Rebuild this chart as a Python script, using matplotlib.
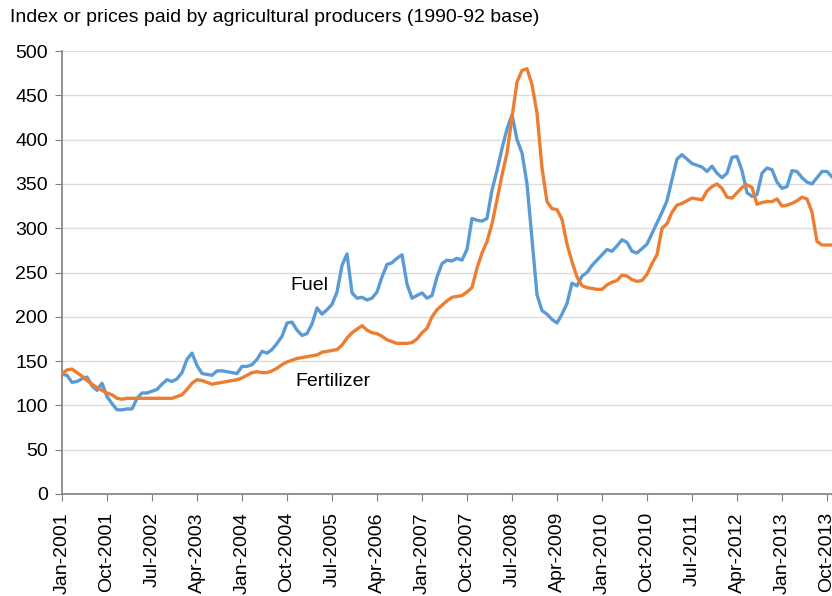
import matplotlib
matplotlib.use('agg')
import matplotlib.pyplot as plt
import numpy as np
import pandas as pd

plt.rcParams['font.family'] = ['Liberation Sans', 'DejaVu Sans']

# monthly index, Jan-2001 .. Nov-2013 (1990-92 = 100)
months = pd.date_range('2001-01-01', periods=155, freq='MS')

fuel = [
    135, 134, 126, 127, 130, 132, 122, 117, 125, 110, 102, 95,     # 2001
    95, 96, 96, 108, 114, 114, 116, 118, 124, 129, 127, 130,       # 2002
    137, 152, 159, 145, 136, 135, 134, 139, 139, 138, 137, 136,    # 2003
    144, 144, 146, 152, 161, 159, 163, 170, 178, 193, 194, 185,    # 2004
    179, 181, 192, 210, 203, 208, 214, 228, 258, 271, 227, 221,    # 2005
    222, 219, 221, 228, 245, 259, 261, 266, 270, 237, 221, 224,    # 2006
    227, 221, 224, 245, 260, 264, 263, 266, 264, 276, 311, 309,    # 2007
    308, 311, 343, 365, 390, 412, 428, 400, 385, 350, 287, 225,    # 2008
    207, 203, 197, 193, 203, 215, 238, 235, 246, 250, 258, 264,    # 2009
    270, 276, 274, 280, 287, 284, 274, 272, 277, 282, 294, 306,    # 2010
    318, 331, 355, 378, 383, 378, 373, 371, 369, 364, 370, 362,    # 2011
    357, 362, 380, 381, 365, 340, 336, 338, 362, 368, 366, 352,    # 2012
    345, 347, 365, 364, 357, 352, 350, 357, 364, 364, 358,         # 2013
]

fertilizer = [
    136, 140, 141, 137, 133, 128, 124, 120, 117, 114, 112, 108,    # 2001
    107, 108, 108, 108, 108, 108, 108, 108, 108, 108, 108, 110,    # 2002
    112, 118, 125, 129, 128, 126, 124, 125, 126, 127, 128, 129,    # 2003
    131, 134, 137, 138, 137, 137, 139, 142, 146, 149, 151, 153,    # 2004
    154, 155, 156, 157, 160, 161, 162, 163, 168, 176, 182, 186,    # 2005
    190, 185, 182, 181, 178, 174, 172, 170, 170, 170, 171, 175,    # 2006
    182, 187, 200, 208, 213, 218, 222, 223, 224, 228, 233, 255,    # 2007
    272, 285, 305, 332, 360, 385, 425, 465, 478, 480, 462, 430,    # 2008
    368, 330, 322, 321, 310, 282, 262, 245, 235, 233, 232, 231,    # 2009
    231, 236, 239, 241, 247, 246, 242, 240, 241, 248, 260, 270,    # 2010
    300, 305, 318, 326, 328, 331, 334, 333, 332, 342, 347, 350,    # 2011
    345, 335, 334, 340, 346, 349, 346, 327, 329, 330, 330, 333,    # 2012
    325, 326, 328, 331, 335, 333, 318, 285, 281, 281, 281,         # 2013
]

y_ticks = list(range(0, 501, 50))
tick_every = 9
tick_labels = [d.strftime('%b-%Y') for d in months[::tick_every]]

title = 'Index or prices paid by agricultural producers (1990-92 base)'

fig = plt.figure(figsize=(8.32, 5.96), dpi=100)
ax = fig.add_axes([62 / 832, (596 - 494) / 596, (832 - 62) / 832, (494 - 51) / 596])

x = np.arange(len(months))
ax.plot(x, fuel, color='#5b9bd5', lw=2.4, solid_joinstyle='round', zorder=3)
ax.plot(x, fertilizer, color='#ed7d31', lw=2.4, solid_joinstyle='round', zorder=3)

ax.set_ylim(0, 500)
ax.set_xlim(0, len(months) - 1)
ax.set_yticks(y_ticks)
ax.set_xticks(x[::tick_every])
ax.set_xticklabels(tick_labels, rotation=90, fontsize=14)
ax.tick_params(axis='y', labelsize=14, length=5, pad=5, color='#808080')
ax.tick_params(axis='x', length=5, pad=8, color='#808080')

ax.grid(axis='y', color='#dcdcdc', lw=1)
ax.set_axisbelow(True)
for s in ['top', 'right']:
    ax.spines[s].set_visible(False)
for s in ['left', 'bottom']:
    ax.spines[s].set_color('#808080')
    ax.spines[s].set_linewidth(1.2)

ax.text(45.6, 235, 'Fuel', fontsize=14, va='center')
ax.text(46.6, 127, 'Fertilizer', fontsize=14, va='center')

fig.text(10 / 832, 1 - 18 / 596, title, fontsize=14, va='center', ha='left')

fig.savefig('out.png', dpi=100)
